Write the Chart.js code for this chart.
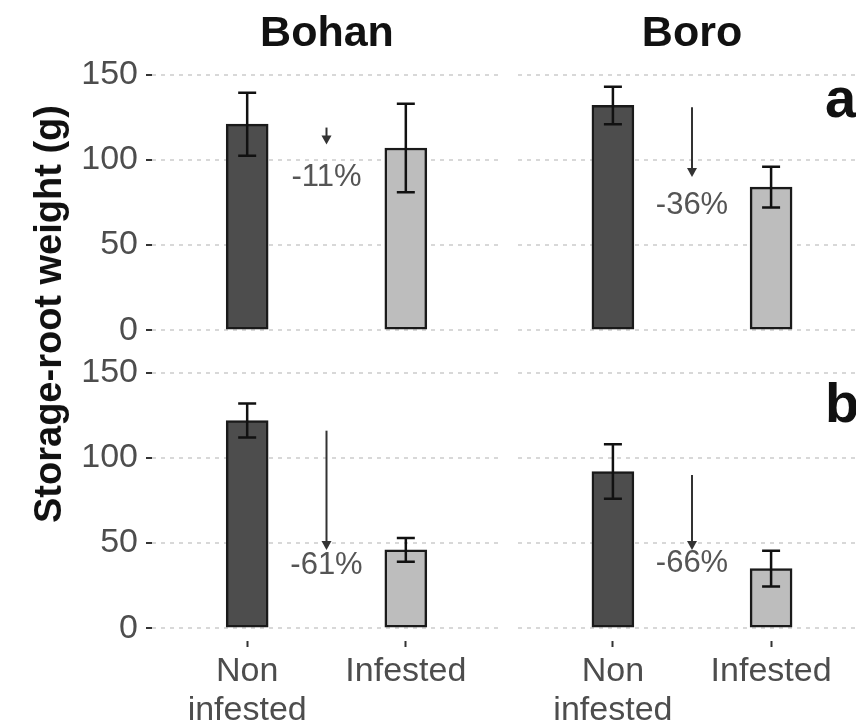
<!DOCTYPE html>
<html>
<head>
<meta charset="utf-8">
<script src="https://cdn.jsdelivr.net/npm/chart.js@4.4.1/dist/chart.umd.min.js"></script>
<style>
  html, body { margin: 0; padding: 0; background: #fff; }
  #fig { position: relative; width: 856px; height: 726px; overflow: hidden;
         font-family: "Liberation Sans", Arial, sans-serif; }
  #fig canvas { position: absolute; top: 0; }
  .txt { position: absolute; white-space: nowrap; line-height: 1; font-weight: bold; color: #111; }
  .title { font-size: 43px; top: 10px; transform: translateX(-50%); }
  .row { font-size: 56px; left: 825px; }
  #ylab { font-size: 38px; left: 48px; top: 314px; transform: translate(-50%, -50%) rotate(-90deg); }
</style>
</head>
<body>
<div id="fig">
  <canvas id="aBohan" width="510" height="726" style="left:0"></canvas>
  <canvas id="aBoro" width="360" height="726" style="left:510px"></canvas>
  <canvas id="bBohan" width="510" height="726" style="left:0"></canvas>
  <canvas id="bBoro" width="360" height="726" style="left:510px"></canvas>
  <div class="txt title" id="t0" style="left:327px"></div>
  <div class="txt title" id="t1" style="left:692px"></div>
  <div class="txt row" id="r0" style="top:70px"></div>
  <div class="txt row" id="r1" style="top:375px"></div>
  <div class="txt" id="ylab">Storage-root weight (g)</div>
</div>
<script>
const genotypes = ['Bohan', 'Boro']
const panelRows = ['a', 'b']
const conditions = [['Non', 'infested'], 'Infested']
const yTicks = [0, 50, 100, 150]

// means and error bars, [non infested, infested]
const meanBohanA = [121, 107]
const errBohanA = [18.5, 26]
const meanBoroA = [132, 84]
const errBoroA = [11, 12]
const meanBohanB = [122, 46]
const errBohanB = [10, 7]
const meanBoroB = [92, 35]
const errBoroB = [16, 10.5]

// arrow start / end (g) and the reduction label
const arrowBohanA = [119, 109]
const arrowBoroA = [131, 90]
const arrowBohanB = [116, 46]
const arrowBoroB = [90, 46]
const pctLabels = ['-11%', '-36%', '-61%', '-66%']
const pctY = [90, 73, 37, 38]

const barFill = ['#4d4d4d', '#bdbdbd']
const family = '"Liberation Sans", Arial, sans-serif'

document.getElementById('t0').textContent = genotypes[0]
document.getElementById('t1').textContent = genotypes[1]
document.getElementById('r0').textContent = panelRows[0]
document.getElementById('r1').textContent = panelRows[1]

const errorBars = {
  id: 'errorBars',
  afterDatasetsDraw(chart) {
    const ctx = chart.ctx
    const y = chart.scales.y
    const ds = chart.data.datasets[0]
    chart.getDatasetMeta(0).data.forEach((bar, i) => {
      const v = ds.data[i].y
      const hi = y.getPixelForValue(v + ds.errors[i])
      const lo = y.getPixelForValue(v - ds.errors[i])
      ctx.save()
      ctx.strokeStyle = '#111'
      ctx.lineWidth = 2.5
      ctx.beginPath()
      ctx.moveTo(bar.x, hi); ctx.lineTo(bar.x, lo)
      ctx.moveTo(bar.x - 9, hi); ctx.lineTo(bar.x + 9, hi)
      ctx.moveTo(bar.x - 9, lo); ctx.lineTo(bar.x + 9, lo)
      ctx.stroke()
      ctx.restore()
    })
  }
}

const arrowNote = {
  id: 'arrowNote',
  afterDatasetsDraw(chart, args, opts) {
    const ctx = chart.ctx
    const x = chart.scales.x.getPixelForValue(0.5)
    const y = chart.scales.y
    const y1 = y.getPixelForValue(opts.from)
    const y2 = y.getPixelForValue(opts.to)
    ctx.save()
    ctx.strokeStyle = '#333'
    ctx.fillStyle = '#333'
    ctx.lineWidth = 2
    ctx.beginPath()
    ctx.moveTo(x, y1); ctx.lineTo(x, y2 - 6)
    ctx.stroke()
    ctx.beginPath()
    ctx.moveTo(x - 5, y2 - 9); ctx.lineTo(x + 5, y2 - 9); ctx.lineTo(x, y2)
    ctx.closePath()
    ctx.fill()
    ctx.fillStyle = '#555'
    ctx.font = '31px ' + family
    ctx.textAlign = 'center'
    ctx.textBaseline = 'middle'
    ctx.fillText(opts.label, x, y.getPixelForValue(opts.labelY))
    ctx.restore()
  }
}

function makePanel(id, means, errs, arrow, k, showY, showX, pad) {
  new Chart(document.getElementById(id), {
    type: 'bar',
    data: {
      datasets: [{
        data: means.map((m, i) => ({ x: i, y: m })),
        errors: errs,
        backgroundColor: barFill,
        borderColor: '#1a1a1a',
        borderWidth: 2.5,
        borderSkipped: false,
        barThickness: 42
      }]
    },
    options: {
      responsive: false,
      animation: false,
      layout: { padding: pad },
      plugins: {
        legend: { display: false },
        tooltip: { enabled: false },
        arrowNote: { from: arrow[0], to: arrow[1], label: pctLabels[k], labelY: pctY[k] }
      },
      scales: {
        x: {
          type: 'linear', min: -0.6, max: 1.6, offset: false, display: showX,
          afterBuildTicks: s => { s.ticks = conditions.map((c, i) => ({ value: i })) },
          afterFit: s => { s.height = showX ? 85 : 0 },
          ticks: {
            callback: v => conditions[v], color: '#4d4d4d', padding: 5,
            maxRotation: 0, autoSkip: false,
            font: { size: 34, family: family, lineHeight: 1.15 }
          },
          grid: { offset: false, drawOnChartArea: false, drawTicks: true, tickLength: 6,
                  tickColor: '#333', tickWidth: 2 },
          border: { display: false }
        },
        y: {
          min: -7.5, max: 157.5,
          afterBuildTicks: s => { s.ticks = yTicks.map(v => ({ value: v })) },
          afterFit: s => { s.width = showY ? 152 : 0 },
          ticks: { display: showY, color: '#4d4d4d', padding: 8, font: { size: 34, family: family } },
          grid: { color: '#d8d8d8', lineWidth: 2, drawTicks: showY, tickLength: 6,
                  tickColor: '#333', tickWidth: 2, tickBorderDash: [] },
          border: { display: false, dash: [4, 5] }
        }
      }
    },
    plugins: [errorBars, arrowNote]
  })
}

// chart areas: top row 62-343, bottom row 360-641; left column 152-501, right 518-866
makePanel('aBohan', meanBohanA, errBohanA, arrowBohanA, 0, true, false, { left: 0, right: 9, top: 62, bottom: 383 })
makePanel('aBoro', meanBoroA, errBoroA, arrowBoroA, 1, false, false, { left: 8, right: 4, top: 62, bottom: 383 })
makePanel('bBohan', meanBohanB, errBohanB, arrowBohanB, 2, true, true, { left: 0, right: 9, top: 360, bottom: 0 })
makePanel('bBoro', meanBoroB, errBoroB, arrowBoroB, 3, false, true, { left: 8, right: 4, top: 360, bottom: 0 })
</script>
</body>
</html>
